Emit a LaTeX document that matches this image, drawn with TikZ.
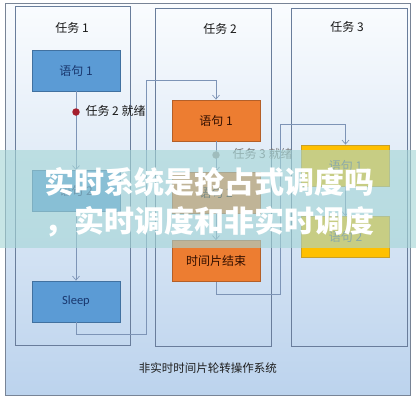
\documentclass[tikz,border=0pt]{standalone}
\usepackage{fontspec}
\newfontfamily\cjk{Noto Sans CJK SC}
\newfontfamily\lat{Carlito}
\usetikzlibrary{arrows.meta}
\definecolor{framec}{RGB}{120,132,150}
\definecolor{taskc}{RGB}{105,125,155}
\definecolor{bgtop}{RGB}{250,252,254}
\definecolor{bgbot}{RGB}{188,211,237}
\definecolor{bluef}{RGB}{91,155,213}
\definecolor{blued}{RGB}{65,113,160}
\definecolor{bluet}{RGB}{25,55,110}
\definecolor{orangef}{RGB}{237,125,49}
\definecolor{oranged}{RGB}{180,95,40}
\definecolor{yellowf}{RGB}{255,192,0}
\definecolor{yellowd}{RGB}{200,160,40}
\definecolor{connc}{RGB}{125,148,182}
\definecolor{redd}{RGB}{165,30,45}
\definecolor{grayd}{RGB}{150,150,150}
\definecolor{grayt}{RGB}{120,120,120}
\definecolor{overc}{RGB}{165,214,214}
\tikzset{
  stmt/.style={draw, line width=0.8pt, minimum width=88pt, minimum height=41pt, inner sep=0pt, font=\cjk\fontsize{12}{14}\selectfont},
  bluebox/.style={stmt, fill=bluef, draw=blued, text=bluet},
  orangebox/.style={stmt, fill=orangef, draw=oranged, text={rgb,255:red,50;green,15;blue,0}},
  yellowbox/.style={stmt, fill=yellowf, draw=yellowd, text={rgb,255:red,95;green,95;blue,95}},
  conn/.style={draw=connc, line width=0.7pt, -{Straight Barb[length=4pt,width=7pt]}},
  tasklbl/.style={font=\cjk\fontsize{12}{14}\selectfont, text={rgb,255:red,25;green,25;blue,25}},
  dotc/.style={circle, minimum size=7.5pt, inner sep=0pt},
  title/.style={font=\cjk\bfseries\fontsize{30}{32}\selectfont, text=white}
}
\begin{document}
\begin{tikzpicture}[x=1pt,y=-1pt]
\useasboundingbox (0,0) rectangle (416,400);
\fill[white] (0,0) rectangle (416,400);
% outer frame
\draw[framec, line width=0.8pt, top color=bgtop, bottom color=bgbot] (5,3) rectangle (410,395);
% task boxes
\draw[taskc, line width=0.7pt] (15,6) rectangle (130,345);
\draw[taskc, line width=0.7pt] (155,8) rectangle (271,346);
\draw[taskc, line width=0.7pt] (291,8) rectangle (407,346);
\node[tasklbl] (tl1) at (72,28) {任务 1};
\node[tasklbl] (tl2) at (220,29) {任务 2};
\node[tasklbl] (tl3) at (347,27) {任务 3};
% statements
\node[bluebox] (a1) at (76,70.5) {语句 1};
\node[bluebox] (a2) at (76,191) {语句 2};
\node[bluebox, font=\lat\fontsize{12.5}{14}\selectfont] (a3) at (76,301.5) {Sleep};
\node[orangebox] (b1) at (216,120.5) {语句 1};
\node[orangebox] (b2) at (216,192.5) {语句 2};
\node[orangebox] (b3) at (216,261) {时间片结束};
\node[yellowbox] (c1) at (345.5,165.5) {语句 1};
\node[yellowbox] (c2) at (345.5,237) {语句 2};
% bends
\coordinate (k1) at (146,80);
\coordinate (k2) at (280,124);
% connectors
\draw[conn] (a1.south) -- (a2.north);
\draw[conn] (a2.south) -- (a3.north);
\draw[conn] (a3.south) -- ++(0,12) -| (k1) -| (b1.north);
\draw[conn] (b1.south) -- (b2.north);
\draw[conn] (b2.south) -- (b3.north);
\draw[conn] (b3.south) -- ++(0,12) -| (k2) -| (c1.north);
\draw[conn] (c1.south) -- (c2.north);
% ready dots
\node[dotc, fill=redd] (d1) at (76,112) {};
\node[anchor=west, font=\cjk\fontsize{12}{14}\selectfont, text={rgb,255:red,25;green,25;blue,25}] (r1) at (82,111) {任务 2 就绪};
\node[dotc, fill=grayd] (d2) at (216,155) {};
\node[anchor=west, font=\cjk\fontsize{12}{14}\selectfont, text=grayt] (r2) at (229,154) {任务 3 就绪};
% bottom caption
\node[font=\cjk\fontsize{11.5}{13}\selectfont, text={rgb,255:red,30;green,30;blue,30}] (cap) at (208,368) {非实时时间片轮转操作系统};
% overlay band
\fill[overc, opacity=0.62] (0,150) rectangle (416,248);
\node[title] (t1) at (210,182) {实时系统是抢占式调度吗};
\node[title] (t2) at (210,222) {，实时调度和非实时调度};
\end{tikzpicture}
\end{document}
